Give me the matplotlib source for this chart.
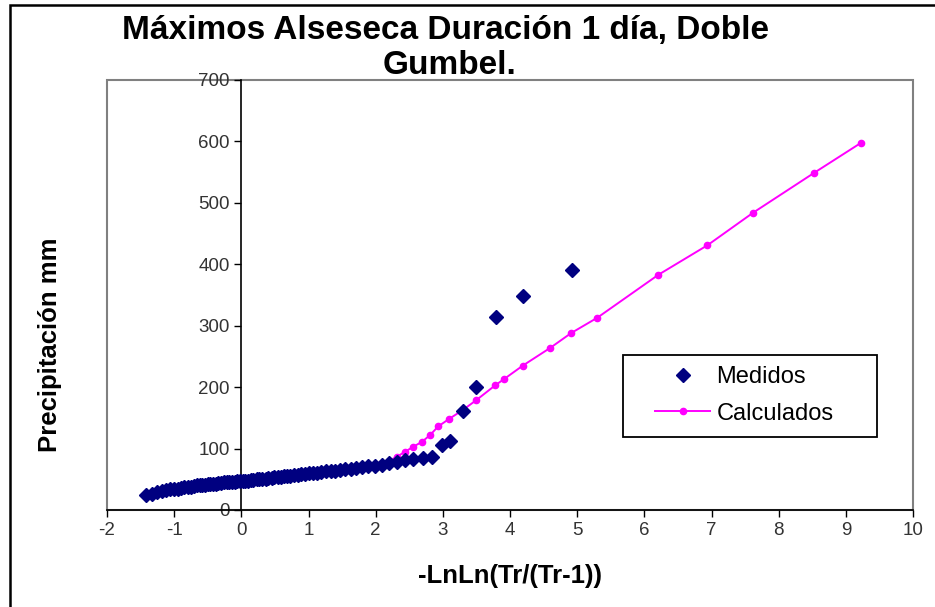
import matplotlib.pyplot as plt
from matplotlib.patches import Rectangle

plt.rcParams['font.family'] = ['Liberation Sans', 'DejaVu Sans']
plt.rcParams['axes.unicode_minus'] = False

# Medidos (measured maxima), -LnLn(Tr/(Tr-1)) vs precipitation
x_med = [-1.42, -1.33, -1.25, -1.18, -1.12, -1.06, -1.00, -0.95, -0.90, -0.85,
         -0.80, -0.75, -0.71, -0.66, -0.62, -0.58, -0.54, -0.50, -0.46, -0.42,
         -0.38, -0.34, -0.30, -0.26, -0.22, -0.18, -0.14, -0.10, -0.06, -0.02,
         0.02, 0.06, 0.10, 0.14, 0.18, 0.23, 0.27, 0.31, 0.36, 0.40,
         0.45, 0.49, 0.54, 0.59, 0.63, 0.68, 0.73, 0.79, 0.84, 0.89,
         0.95, 1.01, 1.07, 1.13, 1.19, 1.26, 1.33, 1.40, 1.47, 1.55,
         1.63, 1.71, 1.80, 1.89, 1.99, 2.09, 2.20, 2.32, 2.44, 2.56,
         2.70, 2.84, 2.99, 3.11, 3.30, 3.50, 3.79, 4.20, 4.92]
y_med = [24, 26, 29, 31, 33, 34, 35, 35, 36, 37,
         38, 38, 39, 40, 40, 41, 41, 42, 42, 43,
         43, 44, 44, 45, 45, 45, 46, 46, 47, 47,
         47, 48, 48, 49, 49, 50, 50, 51, 51, 52,
         52, 53, 53, 54, 55, 55, 56, 57, 57, 58,
         59, 60, 60, 61, 62, 63, 63, 64, 65, 66,
         67, 68, 70, 71, 72, 74, 76, 78, 81, 83,
         84, 87, 106, 112, 161, 201, 315, 348, 390]

# Calculados (double Gumbel fit)
x_cal = [-1.42, -1.33, -1.18, -1.00, -0.80, -0.60, -0.40, -0.20, 0.00, 0.20,
         0.40, 0.60, 0.80, 1.00, 1.20, 1.40, 1.60, 1.80, 2.00, 2.10,
         2.20, 2.32, 2.44, 2.56, 2.69, 2.81, 2.93, 3.09, 3.30, 3.50,
         3.78, 3.91, 4.19, 4.60, 4.91, 5.30, 6.21, 6.94, 7.62, 8.53, 9.23]
y_cal = [27, 30, 33, 36, 38, 40, 43, 45, 47, 49,
         51, 54, 56, 59, 61, 64, 66, 69, 73, 76,
         80, 87, 95, 103, 111, 122, 136, 148, 163, 179,
         203, 213, 235, 264, 288, 313, 383, 431, 484, 549, 598]

W, H = 935, 607
fig = plt.figure(figsize=(W/100, H/100), dpi=100)
ax = fig.add_axes([107/W, 1 - 510/H, 806/W, 430/H])

# outer chart border (cut by the image on right and bottom)
fig.patches.append(Rectangle((10/W, -0.1), 1.2, 1.1 - 5/H, transform=fig.transFigure,
                             fill=False, edgecolor='black', linewidth=1.8))

cal, = ax.plot(x_cal, y_cal, color='#FF00FF', linewidth=1.4, marker='o',
               markersize=4.5, zorder=2, label='Calculados')
med, = ax.plot(x_med, y_med, linestyle='none', marker='D', color='#000080',
               markersize=7.5, zorder=3, label='Medidos')

ax.set_xlim(-2, 10)
ax.set_ylim(0, 700)
ax.set_xticks(range(-2, 11))
ax.set_yticks(range(0, 701, 100))

# gray plot-area frame, y axis crossing at x = 0
ax.add_patch(Rectangle((0, 0), 1, 1, transform=ax.transAxes, fill=False,
                       edgecolor='#808080', linewidth=1.5, clip_on=False, zorder=1))
ax.spines['top'].set_visible(False)
ax.spines['right'].set_visible(False)
ax.spines['left'].set_position(('data', 0))
ax.spines['left'].set_linewidth(1.2)
ax.spines['bottom'].set_linewidth(1.2)
ax.tick_params(direction='out', length=5, width=1, labelsize=13.5, colors='black',
               labelcolor='#333333')

# title in two lines
fig.text(446/W, 1 - 31/H, 'Máximos Alseseca Duración 1 día, Doble',
         ha='center', va='center', fontsize=24, fontweight='bold')
fig.text(450/W, 1 - 66/H, 'Gumbel.',
         ha='center', va='center', fontsize=24, fontweight='bold')
ax.set_xlabel('-LnLn(Tr/(Tr-1))', fontsize=18.5, fontweight='bold', labelpad=18)
fig.text(50/W, 1 - 345/H, 'Precipitación mm', rotation=90, ha='center',
         va='center', fontsize=18.5, fontweight='bold')

# legend box drawn separately
fig.patches.append(Rectangle((623/W, 1 - 437/H), 254/W, 82/H, transform=fig.transFigure,
                             fill=False, edgecolor='black', linewidth=1.3, zorder=5))
leg = ax.legend(handles=[med, cal], loc='upper left',
                bbox_to_anchor=(655/W, 1 - 366/H), bbox_transform=fig.transFigure,
                fontsize=17, frameon=False, borderpad=0, borderaxespad=0,
                handlelength=2.35, handletextpad=0.25, labelspacing=0.62)

fig.savefig('out.png', dpi=100)
